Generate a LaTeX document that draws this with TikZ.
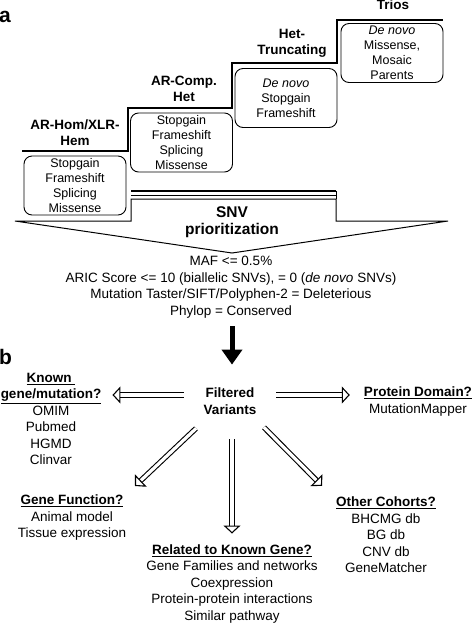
\documentclass[tikz,border=0pt]{standalone}
\usepackage{fontspec}
\setmainfont{Liberation Sans}
\usetikzlibrary{arrows.meta}

\begin{document}
\begin{tikzpicture}[x=1pt,y=-1pt,
	txt/.style={align=center,inner sep=0pt,font=\fontsize{13.5}{16.5}\selectfont},
	hdr/.style={align=center,inner sep=0pt,font=\fontsize{13.5}{16.5}\selectfont\bfseries},
	tag/.style={inner sep=0pt,anchor=west,font=\fontsize{21}{21}\selectfont\bfseries},
	tier/.style={draw,line width=0.9pt,rounded corners=8pt,minimum width=102pt,minimum height=59pt,align=center,inner sep=0pt,font=\fontsize{12.5}{15}\selectfont},
	stair/.style={line width=2.2pt},
	hollow/.style={double,double distance=3.2pt,line width=1.1pt,-{Triangle[open,length=8pt,width=17pt,line width=1.1pt]}}]
	\useasboundingbox (0,0) rectangle (473,625);
	% Panel a: the tiers
	\node[tag] (tagA) at (-1,17) {a};
	\draw[stair] (22,151) -- (128,151) -- (128,108) -- (232,108) -- (232,63) -- (337,63) -- (337,20) -- (443,20);
	\node[hdr] (hom) at (75,132.5) {AR-Hom/XLR-\\Hem};
	\node[hdr] (comp) at (184,89) {AR-Comp.\\Het};
	\node[hdr] (trunc) at (292,43.5) {Het-\\Truncating};
	\node[hdr] (trios) at (393,5) {Trios};
	\node[tier] (homBox) at (75,185.5) {Stopgain\\Frameshift\\Splicing\\Missense};
	\node[tier] (compBox) at (181.5,142.5) {Stopgain\\Frameshift\\Splicing\\Missense};
	\node[tier] (truncBox) at (286,98) {\textit{De novo}\\Stopgain\\Frameshift};
	\node[tier] (triosBox) at (392,53) {\textit{De novo}\\Missense,\\Mosaic\\Parents};
	% Funnel
	\draw[line width=1pt] (15,221) -- (131,221) -- (131,199) -- (336,199) -- (336,221) -- (448,221) -- (232,253) -- cycle;
	\draw[line width=2.4pt] (131,191) -- (336,191);
	\draw[line width=0.9pt] (131,195) -- (336,195);
	\draw[line width=0.9pt] (336,191) -- (336,199);
	\node[hdr,font=\fontsize{15.5}{17}\selectfont\bfseries] (snv) at (232,222.5) {SNV\\prioritization};
	\node[txt] (crit) at (231,287) {MAF <= 0.5\%\\ARIC Score <= 10 (biallelic SNVs), = 0 (\textit{de novo} SNVs)\\Mutation Taster/SIFT/Polyphen-2 = Deleterious\\Phylop = Conserved};
	% Panel b
	\node[tag] (tagB) at (-1,356.5) {b};
	\node[hdr] (filt) at (230,401) {Filtered\\Variants};
	\draw[line width=5pt,-{Triangle[length=15pt,width=20pt]}] ([shift={(1,8)}]crit.south) -- ([shift={(2,-23)}]filt.north);
	\node[txt] (known) at (51,419) {\textbf{\underline{Known\ }}\\\textbf{\underline{gene/mutation?}}\\OMIM\\Pubmed\\HGMD\\Clinvar};
	\node[txt] (domain) at (418,401.5) {\textbf{\underline{Protein Domain?}}\\MutationMapper};
	\node[txt] (genefn) at (72,518) {\textbf{\underline{Gene Function?}}\\Animal model\\Tissue expression};
	\node[txt] (related) at (232,584) {\textbf{\underline{Related to Known Gene?}}\\Gene Families and networks\\Coexpression\\Protein-protein interactions\\Similar pathway};
	\node[txt] (cohorts) at (386,535) {\textbf{\underline{Other Cohorts?}}\\BHCMG db\\BG db\\CNV db\\GeneMatcher};
	\draw[hollow] ([shift={(-20,-6)}]filt.west) -- ([shift={(11,-6)}]filt.west -| known.east);
	\draw[hollow] ([shift={(20,-6)}]filt.east) -- ([shift={(-14,-6)}]filt.east -| domain.west);
	\draw[hollow] ([shift={(-34,14)}]filt.south) -- ([shift={(63,-9)}]genefn.north);
	\draw[hollow] ([shift={(2,25)}]filt.south) -- ([shift={(0,-11)}]related.north);
	\draw[hollow] ([shift={(34,13)}]filt.south) -- ([shift={(-64,-11)}]cohorts.north);
\end{tikzpicture}
\end{document}
